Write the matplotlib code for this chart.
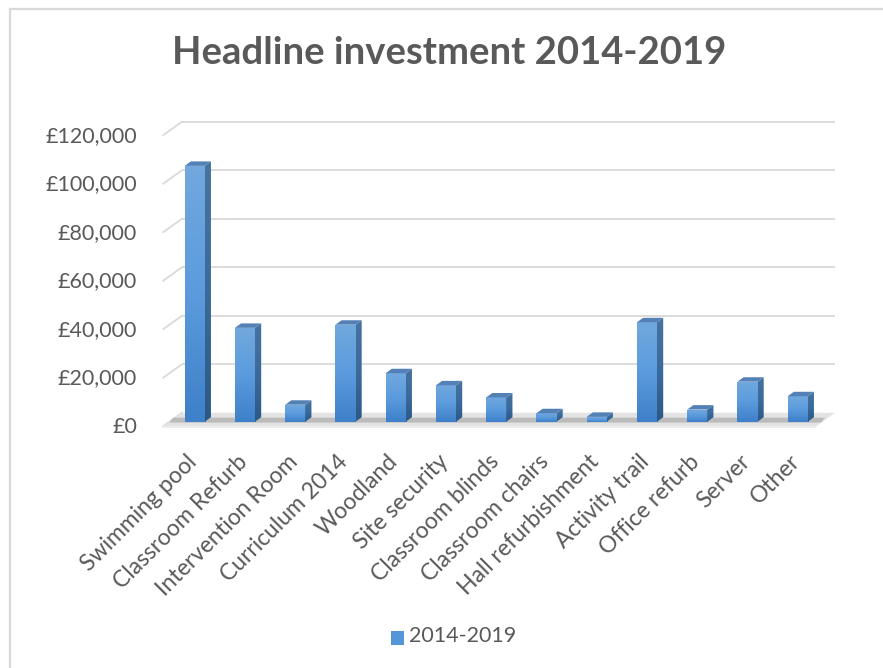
import numpy as np
import matplotlib
matplotlib.use("Agg")
import matplotlib.pyplot as plt
from matplotlib.patches import Polygon, Rectangle
from matplotlib.colors import LinearSegmentedColormap

plt.rcParams['font.family'] = ['Lato', 'DejaVu Sans']

# ---- data ----
categories = ["Swimming pool", "Classroom Refurb", "Intervention Room", "Curriculum 2014",
              "Woodland", "Site security", "Classroom blinds", "Classroom chairs",
              "Hall refurbishment", "Activity trail", "Office refurb", "Server", "Other"]
values = [105500, 38700, 7000, 40000, 20000, 15000, 10000, 3500, 2000, 41000, 5000, 16500, 10500]
series_name = "2014-2019"
yticks = [0, 20000, 40000, 60000, 80000, 100000, 120000]
ytick_labels = ["£0", "£20,000", "£40,000", "£60,000", "£80,000", "£100,000", "£120,000"]
title = "Headline investment 2014-2019"

TXT = "#595959"
GRID = "#D9D9D9"

W, H = 883, 668
fig = plt.figure(figsize=(W / 100, H / 100), dpi=100)

# plot area in pixels
L, R, T, B = 150, 850, 110, 440
ax = fig.add_axes([L / W, (H - B) / H, (R - L) / W, (B - T) / H])
ax.axis("off")

# scales: px per category and px per value
PX_CAT = 50.25
PX_VAL = 48.5 / 20000
x0_px, y0_px = 194.7, 421.7  # first category center, value 0 on bar front
ax.set_xlim((L - x0_px) / PX_CAT, (R - x0_px) / PX_CAT)
ax.set_ylim((y0_px - B) / PX_VAL, (y0_px - T) / PX_VAL)

# depth unit (one step back in depth) in data units
DX = 6.2 / PX_CAT
DY = 4.45 / PX_VAL

n = len(categories)
xs = np.arange(n)
xl_front = -0.625
xr_back = 12.74

# floor
floor_front_y = -DY
floor_back_y = 2 * DY
floor = Polygon([(xl_front, floor_front_y), (xr_back - 3 * DX, floor_front_y),
                 (xr_back, floor_back_y), (xl_front + 3 * DX, floor_back_y)],
                closed=True, facecolor="#E3E3E3", edgecolor="none", zorder=1, clip_on=False)
ax.add_patch(floor)
edge = Polygon([(xl_front, floor_front_y), (xr_back - 3 * DX, floor_front_y),
                (xr_back - 3 * DX, floor_front_y - 1.5 / PX_VAL), (xl_front, floor_front_y - 1.5 / PX_VAL)],
               closed=True, facecolor="#EDEDED", edgecolor="none", zorder=1, clip_on=False)
ax.add_patch(edge)
shadow = Polygon([(xl_front + 1.0 * DX, -0.2 * DY), (xr_back - 2.2 * DX, -0.2 * DY),
                  (xr_back - 1.6 * DX, 0.9 * DY), (xl_front + 1.6 * DX, 0.9 * DY)],
                 closed=True, facecolor="#9A9A9A", edgecolor="none", alpha=0.55, zorder=1, clip_on=False)
ax.add_patch(shadow)

# gridlines (back wall + left diagonal)
for v in yticks:
    yb = v + 2 * DY
    yf = v - DY
    if v > 0:
        ax.plot([xl_front + 3 * DX, xr_back], [yb, yb], color=GRID, lw=1.3, zorder=0.5,
                solid_capstyle="butt", clip_on=False)
    ax.plot([xl_front, xl_front + 3 * DX], [yf, yb], color=GRID, lw=1.3, zorder=0.5, clip_on=False)

# y tick labels
for v, lab in zip(yticks, ytick_labels):
    ax.annotate(lab, xy=(xl_front, v - DY), xytext=(-19, -0.5), textcoords="offset points",
                ha="right", va="center", fontsize=15.5, color=TXT, annotation_clip=False)

# bars
bw = 0.4
front_cmap = LinearSegmentedColormap.from_list("f", ["#3E80C9", "#5B9BDD", "#71A8DE"])
side_cmap = LinearSegmentedColormap.from_list("s", ["#2B5987", "#3B6A9C", "#46739F"])
grad = np.linspace(0, 1, 64).reshape(-1, 1)
for x, v in zip(xs, values):
    xl, xr = x - bw / 2, x + bw / 2
    front = Rectangle((xl, 0), bw, v, facecolor="none", edgecolor="none", zorder=3)
    ax.add_patch(front)
    im = ax.imshow(grad, cmap=front_cmap, aspect="auto", origin="lower",
                   extent=(xl, xr, 0, v), zorder=3, interpolation="bilinear")
    im.set_clip_path(front)
    side = Polygon([(xr, 0), (xr + DX, DY), (xr + DX, v + DY), (xr, v)], closed=True,
                   facecolor="none", edgecolor="none", zorder=3)
    ax.add_patch(side)
    im2 = ax.imshow(grad, cmap=side_cmap, aspect="auto", origin="lower",
                    extent=(xr, xr + DX, 0, v + DY), zorder=3, interpolation="bilinear")
    im2.set_clip_path(side)
    top = Polygon([(xl, v), (xr, v), (xr + DX, v + DY), (xl + DX, v + DY)], closed=True,
                  facecolor="#5381B6", edgecolor="none", zorder=3.5)
    ax.add_patch(top)

ax.set_xlim((L - x0_px) / PX_CAT, (R - x0_px) / PX_CAT)
ax.set_ylim((y0_px - B) / PX_VAL, (y0_px - T) / PX_VAL)

# category labels
for x, c in zip(xs, categories):
    ax.annotate(c, xy=(x, 0), xytext=(-6, -21), textcoords="offset points",
                ha="right", va="top", rotation=45, rotation_mode="anchor",
                fontsize=16.5, color=TXT, annotation_clip=False)

# title
fig.text(449 / W, 1 - 53 / H, title, ha="center", va="center", fontsize=27.5,
         fontweight="bold", color=TXT)

# legend
fig.patches.append(Rectangle((391 / W, 1 - 645 / H), 13 / W, 14 / H, transform=fig.transFigure,
                             facecolor="#5596D8", edgecolor="none"))
fig.text(409 / W, 1 - 636 / H, series_name, ha="left", va="center", fontsize=15.5, color=TXT)

# chart border (left/top visible)
fig.add_artist(plt.Line2D([10 / W, 10 / W], [0, 1 - 9 / H], transform=fig.transFigure,
                          color=GRID, lw=1.6))
fig.add_artist(plt.Line2D([10 / W, 1], [1 - 9 / H, 1 - 9 / H], transform=fig.transFigure,
                          color=GRID, lw=1.6))

fig.savefig("out.png", dpi=100, facecolor="white")
